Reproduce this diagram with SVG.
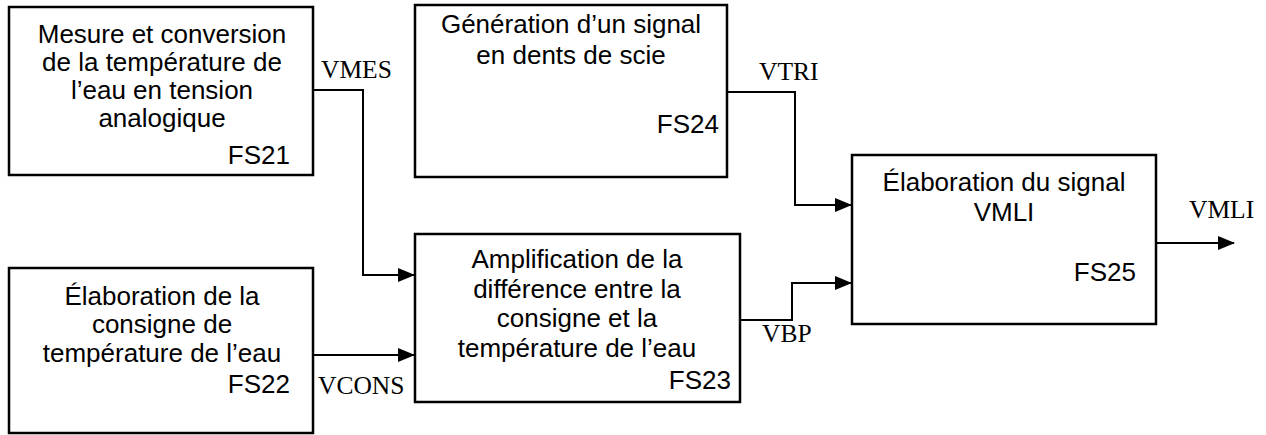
<svg xmlns="http://www.w3.org/2000/svg" width="1266" height="435" viewBox="0 0 1266 435">
<style>
.box{fill:#fff;stroke:#000;stroke-width:2.5}
.t{font-family:"Liberation Sans",Arial,sans-serif;font-size:26px;fill:#000;text-anchor:middle}
.r{text-anchor:end}
.lbl{font-family:"Liberation Serif","Times New Roman",serif;font-size:25.5px;fill:#000}
.w{fill:none;stroke:#000;stroke-width:2}
</style>
<defs>
<marker id="ah" markerWidth="17" markerHeight="14" refX="16" refY="7" orient="auto" markerUnits="userSpaceOnUse">
<path d="M0,0 L17,7 L0,14 Z" fill="#000"/>
</marker>
</defs>
<rect width="1266" height="435" fill="#fff"/>
<g id="connectors">
<path class="w" d="M313,90 H363 V275 H414" marker-end="url(#ah)"/>
<path class="w" d="M313,355 H414" marker-end="url(#ah)"/>
<path class="w" d="M727,92 H795 V205 H851" marker-end="url(#ah)"/>
<path class="w" d="M740,320 H792 V283 H851" marker-end="url(#ah)"/>
<path class="w" d="M1156,243 H1234" marker-end="url(#ah)"/>
<text class="lbl" x="321" y="78">VMES</text>
<text class="lbl" x="318" y="394">VCONS</text>
<text class="lbl" x="759" y="80">VTRI</text>
<text class="lbl" x="762" y="342">VBP</text>
<text class="lbl" x="1189" y="218">VMLI</text>
</g>
<g id="FS21">
<rect class="box" x="9" y="7" width="304" height="168"/>
<text class="t" x="162" y="43">Mesure et conversion</text>
<text class="t" x="162" y="71">de la température de</text>
<text class="t" x="162" y="99">l’eau en tension</text>
<text class="t" x="162" y="127">analogique</text>
<text class="t r" x="290" y="164">FS21</text>
</g>
<g id="FS22">
<rect class="box" x="9" y="268" width="304" height="165"/>
<text class="t" x="162" y="305">Élaboration de la</text>
<text class="t" x="162" y="333">consigne de</text>
<text class="t" x="162" y="362">température de l’eau</text>
<text class="t r" x="290" y="393">FS22</text>
</g>
<g id="FS23">
<rect class="box" x="415" y="234" width="325" height="168"/>
<text class="t" x="577" y="268">Amplification de la</text>
<text class="t" x="577" y="298">différence entre la</text>
<text class="t" x="577" y="327">consigne et la</text>
<text class="t" x="577" y="357">température de l’eau</text>
<text class="t r" x="731" y="389">FS23</text>
</g>
<g id="FS24">
<rect class="box" x="415" y="5" width="312" height="172"/>
<text class="t" x="571" y="33">Génération d’un signal</text>
<text class="t" x="571" y="64">en dents de scie</text>
<text class="t r" x="719" y="133">FS24</text>
</g>
<g id="FS25">
<rect class="box" x="852" y="155" width="304" height="169"/>
<text class="t" x="1004" y="191">Élaboration du signal</text>
<text class="t" x="1004" y="221">VMLI</text>
<text class="t r" x="1136" y="281">FS25</text>
</g>
</svg>
